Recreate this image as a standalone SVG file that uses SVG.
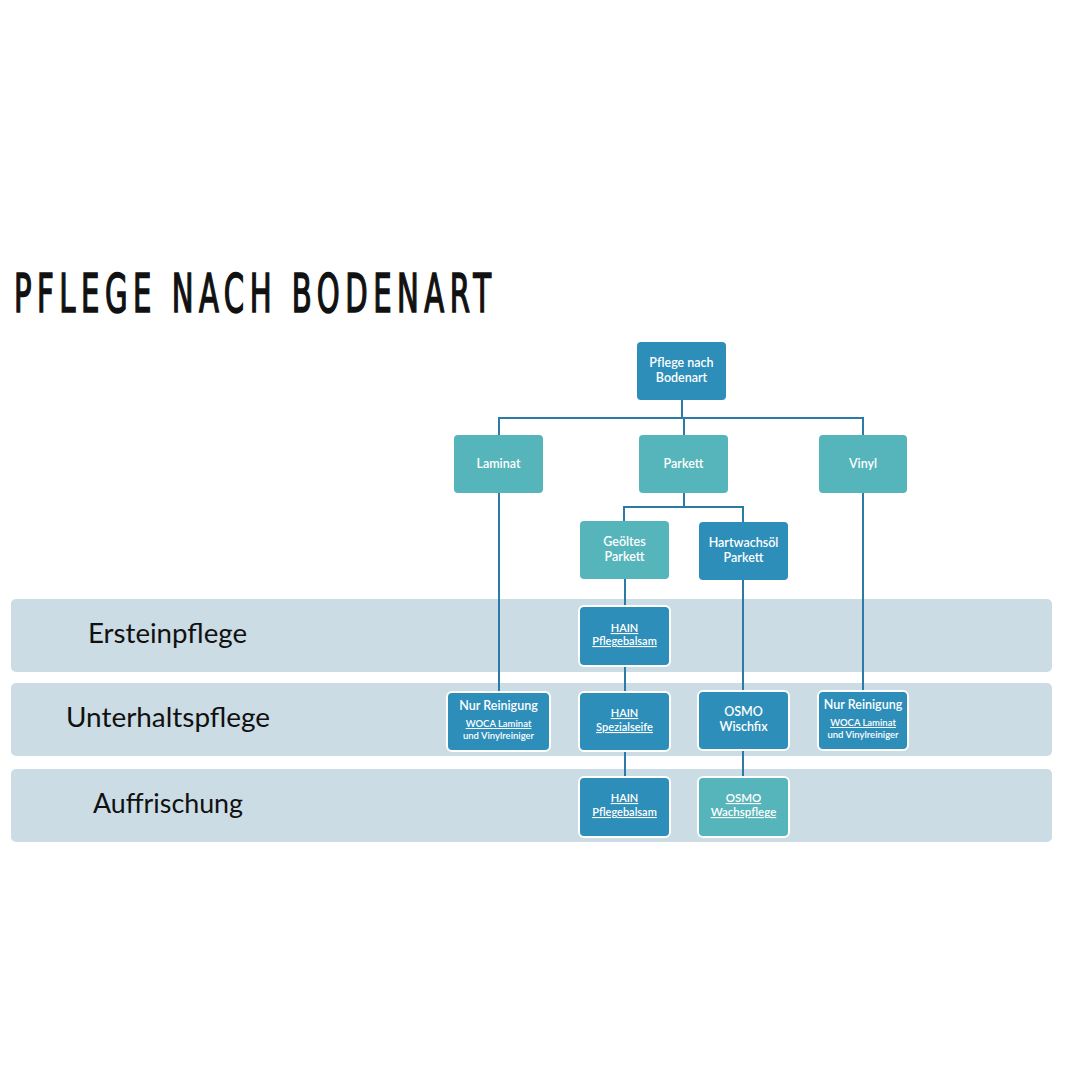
<svg xmlns="http://www.w3.org/2000/svg" width="1080" height="1080" viewBox="0 0 1080 1080">
<style>
.band{fill:#CBDCE5}
.lvl{font-family:Lato,"Open Sans",sans-serif;font-size:26px;fill:#111}
.dark{fill:#2D8EB9}
.teal{fill:#56B5BB}
.wb{stroke:#fff;stroke-width:2}
.t{font-family:Lato,"Open Sans",sans-serif;fill:#fff;text-anchor:middle;font-weight:600}
.s12{font-size:12.5px}
.s11{font-size:11.5px}
.s10{font-size:11px}
.s9{font-size:9.5px}
.u{text-decoration:underline}
.con{stroke:#2B7BA6;stroke-width:2;fill:none}
</style>
<rect width="1080" height="1080" fill="#fff"/>
<text transform="scale(0.6,1)" x="23.3" y="312" font-family="'Liberation Sans Narrow','DejaVu Sans Condensed','Liberation Sans',sans-serif" font-size="54" textLength="795" lengthAdjust="spacing" fill="#111" stroke="#111" stroke-width="1.6">PFLEGE NACH BODENART</text>
<g id="bands">
<rect class="band" x="11" y="599" width="1041" height="73" rx="5"/>
<rect class="band" x="11" y="683" width="1041" height="73" rx="5"/>
<rect class="band" x="11" y="769" width="1041" height="73" rx="5"/>
<text class="lvl" x="88" y="643" textLength="159" lengthAdjust="spacingAndGlyphs">Ersteinpflege</text>
<text class="lvl" x="66" y="727" textLength="204" lengthAdjust="spacingAndGlyphs">Unterhaltspflege</text>
<text class="lvl" x="93" y="813" textLength="150" lengthAdjust="spacingAndGlyphs">Auffrischung</text>
</g>
<g id="connectors" class="con">
<path d="M682 400V418M499 435V418H863V435M684 418V435"/>
<path d="M684 493V507M624 521V507H743V522"/>
<path d="M499 493V692M863 493V691"/>
<path d="M625 579V606M625 666V692M625 751V777"/>
<path d="M743 580V691M743 750V777"/>
</g>
<g id="root"><rect class="dark" x="637" y="342" width="89" height="58" rx="4"/><text class="t s12" x="681.5" y="367">Pflege nach</text><text class="t s12" x="681.5" y="382">Bodenart</text></g>
<g id="laminat"><rect class="teal" x="454" y="435" width="89" height="58" rx="4"/><text class="t s12" x="498.5" y="468">Laminat</text></g>
<g id="parkett"><rect class="teal" x="639" y="435" width="89" height="58" rx="4"/><text class="t s12" x="683.5" y="468">Parkett</text></g>
<g id="vinyl"><rect class="teal" x="819" y="435" width="88" height="58" rx="4"/><text class="t s12" x="863" y="468">Vinyl</text></g>
<g id="geoeltes"><rect class="teal" x="580" y="521" width="89" height="58" rx="4"/><text class="t s12" x="624.5" y="546">Geöltes</text><text class="t s12" x="624.5" y="561">Parkett</text></g>
<g id="hartwachsoel"><rect class="dark" x="699" y="522" width="89" height="58" rx="4"/><text class="t s12" x="743.5" y="547">Hartwachsöl</text><text class="t s12" x="743.5" y="562">Parkett</text></g>
<g id="hain-pflegebalsam-1"><rect class="dark wb" x="579" y="606" width="91" height="60" rx="5"/><text class="t s10 u" x="624.5" y="632">HAIN</text><text class="t s10 u" x="624.5" y="645">Pflegebalsam</text></g>
<g id="nur-reinigung-1"><rect class="dark wb" x="447" y="692" width="103" height="59" rx="5"/><text class="t s12" x="498.5" y="710">Nur Reinigung</text><text class="t s9 u" x="498.5" y="727">WOCA Laminat</text><text class="t s9" x="498.5" y="739">und Vinylreiniger</text></g>
<g id="hain-spezialseife"><rect class="dark wb" x="579" y="692" width="91" height="59" rx="5"/><text class="t s10 u" x="624.5" y="717">HAIN</text><text class="t s10 u" x="624.5" y="731">Spezialseife</text></g>
<g id="osmo-wischfix"><rect class="dark wb" x="698" y="691" width="91" height="59" rx="5"/><text class="t s12" x="743.5" y="716">OSMO</text><text class="t s12" x="743.5" y="731">Wischfix</text></g>
<g id="nur-reinigung-2"><rect class="dark wb" x="818" y="691" width="90" height="59" rx="5"/><text class="t s12" x="863" y="709">Nur Reinigung</text><text class="t s9 u" x="863" y="726">WOCA Laminat</text><text class="t s9" x="863" y="738">und Vinylreiniger</text></g>
<g id="hain-pflegebalsam-2"><rect class="dark wb" x="579" y="777" width="91" height="60" rx="5"/><text class="t s10 u" x="624.5" y="802">HAIN</text><text class="t s10 u" x="624.5" y="816">Pflegebalsam</text></g>
<g id="osmo-wachspflege"><rect class="teal wb" x="698" y="777" width="91" height="60" rx="5"/><text class="t s11 u" x="743.5" y="802">OSMO</text><text class="t s11 u" x="743.5" y="816">Wachspflege</text></g>
</svg>
